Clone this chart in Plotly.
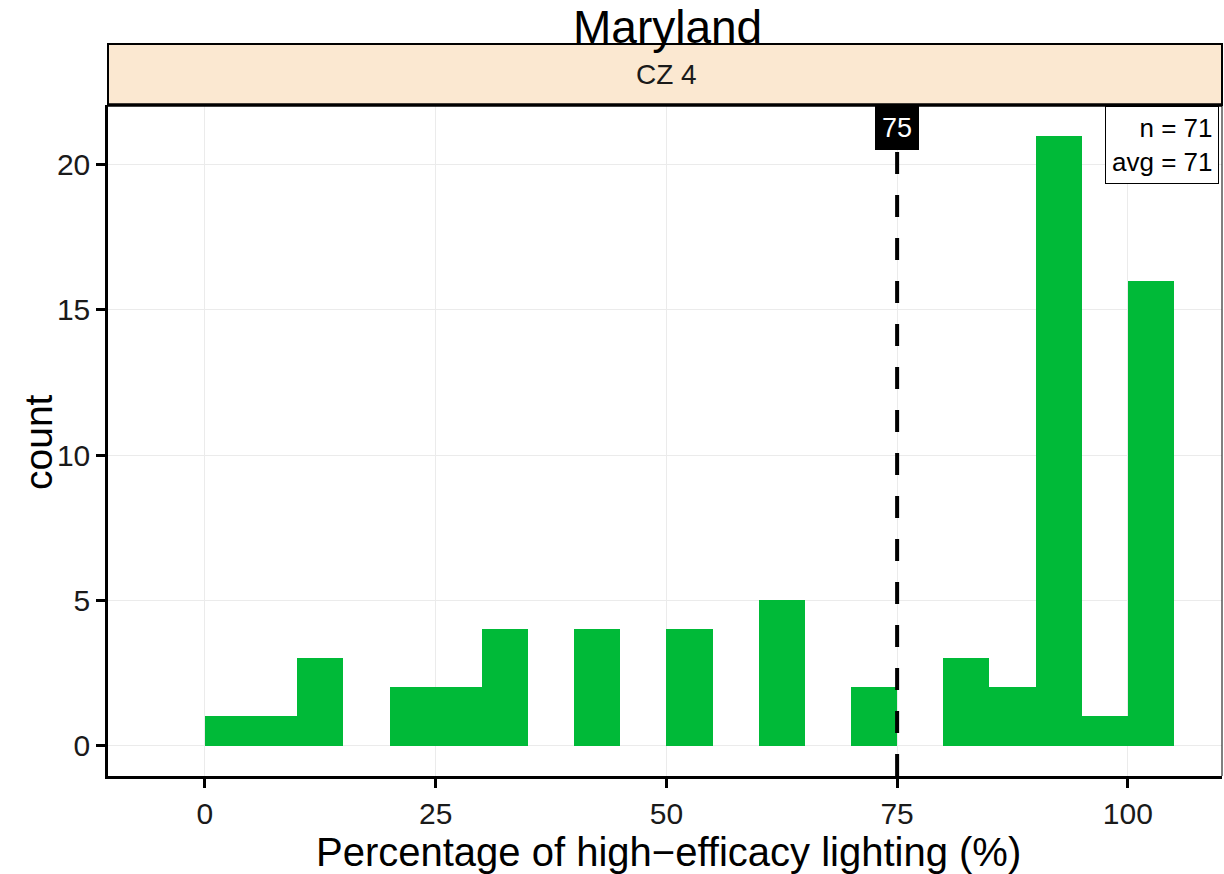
import plotly.graph_objects as go

# Data
bin_start = [0, 5, 10, 15, 20, 25, 30, 35, 40, 45, 50, 55, 60, 65, 70, 75, 80, 85, 90, 95, 100]
counts    = [1, 1, 3, 0, 2, 2, 4, 0, 4, 0, 4, 0, 5, 0, 2, 0, 3, 2, 21, 1, 16]
bin_width = 5
x_ticks = [0, 25, 50, 75, 100]
y_ticks = [0, 5, 10, 15, 20]
ref_value = 75
n_total = 71
avg_value = 71
state = "Maryland"
strip_label = "CZ 4"

FONT = "Liberation Sans, Arial, sans-serif"
x_range = [-10.5, 110.2]
y_range = [-1.05, 22.05]

centers = [s + bin_width / 2 for s in bin_start]

fig = go.Figure()
fig.add_trace(go.Bar(
    x=centers, y=counts, width=[bin_width] * len(counts),
    marker=dict(color="#00BA38", line=dict(width=0)),
    hoverinfo="x+y", showlegend=False,
))

# dashed reference line
fig.add_trace(go.Scatter(
    x=[ref_value, ref_value], y=y_range, mode="lines",
    line=dict(color="black", width=4, dash="22px,21px"),
    hoverinfo="skip", showlegend=False,
))

# plot area in page px: x 108..1222, y 105..776 (body margin removed)
PW, PH = 1114, 671
strip_h = 61 / PH

def py(y_page):
    return (776 - y_page) / PH

def px(x_page):
    return (x_page - 108) / PW

fig.update_layout(
    width=1224, height=874,
    margin=dict(l=108, r=2, t=105, b=98),
    paper_bgcolor="white", plot_bgcolor="white",
    font=dict(family=FONT, color="black"),
    bargap=0,
    xaxis=dict(
        range=x_range, tickvals=x_ticks, ticktext=[str(v) for v in x_ticks],
        showgrid=True, gridcolor="#EBEBEB", gridwidth=1, zeroline=False,
        showline=True, linecolor="black", linewidth=2.5,
        ticks="outside", ticklen=9, tickwidth=2.5, tickcolor="black",
        tickfont=dict(size=30, family=FONT, color="#1A1A1A"),
    ),
    yaxis=dict(
        range=y_range, tickvals=y_ticks, ticktext=[str(v) for v in y_ticks],
        showgrid=True, gridcolor="#EBEBEB", gridwidth=1, zeroline=False,
        showline=True, linecolor="black", linewidth=2.5,
        ticks="outside", ticklen=9, tickwidth=2.5, tickcolor="black",
        tickfont=dict(size=30, family=FONT, color="#1A1A1A"),
    ),
    shapes=[
        # strip
        dict(type="rect", xref="paper", yref="paper", x0=0, x1=1, y0=1, y1=1 + strip_h,
             fillcolor="#FBE8D1", line=dict(color="black", width=2), layer="below"),
        # panel top border
        dict(type="line", xref="paper", yref="paper", x0=0, x1=1, y0=1, y1=1,
             line=dict(color="black", width=3.5), layer="above"),
        # panel right border
        dict(type="line", xref="paper", yref="paper", x0=1, x1=1, y0=0, y1=1,
             line=dict(color="black", width=1), layer="above"),
    ],
    annotations=[
        dict(text=state, xref="paper", yref="paper", x=px(667), y=py(0),
             xanchor="center", yanchor="top", showarrow=False, borderpad=0,
             font=dict(size=46, family=FONT, color="black")),
        dict(text=strip_label, xref="paper", yref="paper", x=px(666), y=1 + strip_h / 2,
             xanchor="center", yanchor="middle", showarrow=False,
             font=dict(size=28, family=FONT, color="#1A1A1A")),
        dict(text="Percentage of high\u2212efficacy lighting (%)", xref="paper", yref="paper",
             x=px(668), y=py(852), xanchor="center", yanchor="middle", showarrow=False,
             font=dict(size=40, family=FONT, color="black")),
        dict(text="count", xref="paper", yref="paper", textangle=-90,
             x=px(38), y=py(442), xanchor="center", yanchor="middle",
             showarrow=False, font=dict(size=39, family=FONT, color="black")),
        dict(text=str(ref_value), xref="x", yref="paper", x=ref_value, y=py(106),
             xanchor="center", yanchor="top", showarrow=False,
             bgcolor="black", bordercolor="black", borderwidth=1, borderpad=6,
             font=dict(size=27, family=FONT, color="white")),
        dict(text=f"n = {n_total}<br>avg = {avg_value}", xref="paper", yref="paper",
             x=px(1219), y=py(106), xanchor="right", yanchor="top",
             align="right", showarrow=False,
             bgcolor="white", bordercolor="black", borderwidth=1, borderpad=6,
             font=dict(size=26, family=FONT, color="black")),
    ],
)

fig.write_html("out.html", config={"displayModeBar": False},
               post_script="document.body.style.margin='0px';")
